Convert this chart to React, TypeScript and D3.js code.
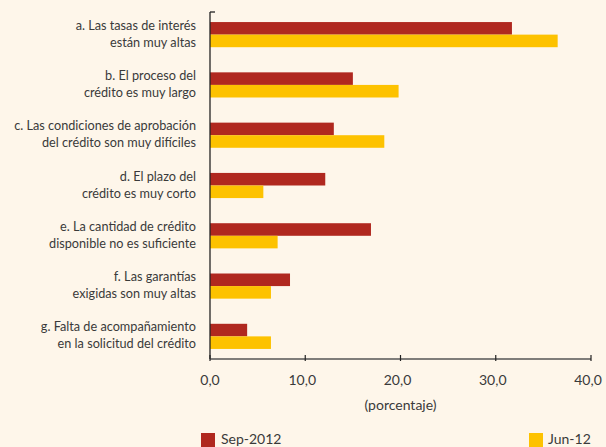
import React from "react";
import * as d3 from "d3";

const categories = [
  ["a. Las tasas de interés", "están muy altas"],
  ["b. El proceso del", "crédito es muy largo"],
  ["c. Las condiciones de aprobación", "del crédito son muy difíciles"],
  ["d. El plazo del", "crédito es muy corto"],
  ["e. La cantidad de crédito", "disponible no es suficiente"],
  ["f. Las garantías", "exigidas son muy altas"],
  ["g. Falta de acompañamiento", "en la solicitud del crédito"],
];
const sep2012 = [31.7, 15.0, 13.0, 12.1, 16.9, 8.4, 3.9];
const jun12 = [36.5, 19.8, 18.3, 5.6, 7.1, 6.4, 6.4];
const xTicks = [0, 10, 20, 30, 40];
const seriesNames = ["Sep-2012", "Jun-12"];

const RED = "#B0281F";
const YEL = "#FDC200";
const BG = "#FEF6EA";
const TXT = "#3a3a3a";
const FONT = "Lato, sans-serif";

export default function App() {
  const W = 606, H = 447;
  const left = 210, right = 591, top = 12, bottom = 359;
  const x = d3.scaleLinear().domain([0, 40]).range([left, right]);
  const idx = categories.map((_, i) => String(i));
  const y = d3.scaleBand().domain(idx).range([top, bottom]).paddingInner(0.5).paddingOuter(0.2);
  const inner = d3.scaleBand().domain(["0", "1"]).range([0, y.bandwidth()]);
  const series = [sep2012, jun12];
  const colors = [RED, YEL];
  const fmt = (v: number) => d3.format(".1f")(v).replace(".", ",");

  return (
    <div style={{ position: "fixed", left: 0, top: 0, width: W, height: H, overflow: "hidden" }}>
      <svg width={W} height={H} style={{ display: "block", background: BG }} fontFamily={FONT}>
        <rect width={W} height={H} fill={BG} />
        {series.map((s, si) =>
          s.map((v, i) => (
            <rect
              key={`${si}-${i}`}
              x={x(0)}
              y={(y(String(i)) as number) + (inner(String(si)) as number)}
              width={x(v) - x(0)}
              height={inner.bandwidth()}
              fill={colors[si]}
            />
          ))
        )}
        {categories.map((lines, i) => {
          const cy = (y(String(i)) as number) + y.bandwidth() / 2;
          return (
            <text key={i} textAnchor="end" fontSize={12.7} fill={TXT}>
              <tspan x={196} y={cy - 5}>{lines[0]}</tspan>
              <tspan x={196} y={cy + 12}>{lines[1]}</tspan>
            </text>
          );
        })}
        {/* axes */}
        <line x1={x(0)} x2={x(0)} y1={top} y2={bottom} stroke="#222" strokeWidth={1.3} />
        <line x1={x(0)} x2={x(0) + 5} y1={top} y2={top} stroke="#222" strokeWidth={1.3} />
        <line x1={x(0)} x2={right} y1={bottom} y2={bottom} stroke="#555" strokeWidth={1.3} />
        {xTicks.map((t) => (
          <g key={t}>
            <line x1={x(t)} x2={x(t)} y1={bottom - 4} y2={bottom + 2} stroke="#222" strokeWidth={1.2} />
            <text x={x(t)} dx={t === 0 ? 0 : -3} y={385} textAnchor="middle" fontSize={14} fill={TXT}>{fmt(t)}</text>
          </g>
        ))}
        <text x={(x(0) + x(40)) / 2} y={410} textAnchor="middle" fontSize={14} fill={TXT}>(porcentaje)</text>
        {/* legend */}
        <rect x={201} y={433} width={14} height={14} fill={RED} />
        <text x={221} y={444} fontSize={14} fill={TXT}>{seriesNames[0]}</text>
        <rect x={529} y={433} width={14} height={14} fill={YEL} />
        <text x={548} y={444} fontSize={14} fill={TXT}>{seriesNames[1]}</text>
      </svg>
    </div>
  );
}
